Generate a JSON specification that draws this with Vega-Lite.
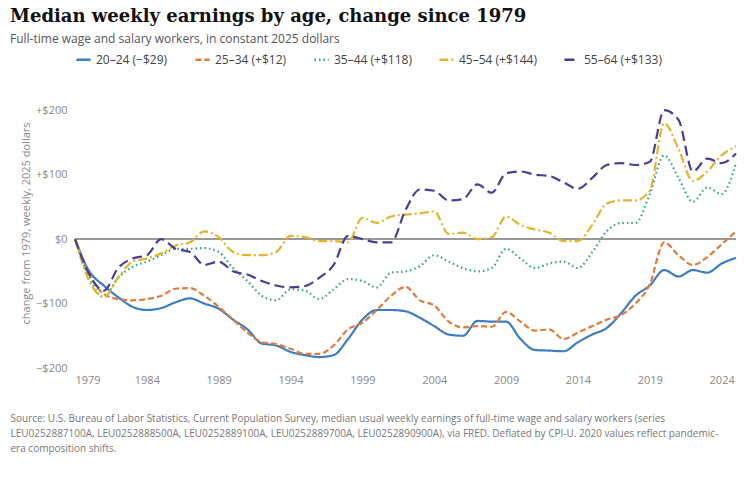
{
  "$schema": "https://vega.github.io/schema/vega-lite/v6.json",
  "width": 661,
  "height": 290,
  "padding": {"left": 10, "top": 8, "right": 14, "bottom": 5},
  "background": "white",
  "config": {
    "view": {"stroke": null},
    "font": "Open Sans",
    "axis": {"labelColor": "#888", "labelFontSize": 11, "titleColor": "#888", "titleFontWeight": "normal"}
  },
  "title": {
    "text": "Median weekly earnings by age, change since 1979",
    "subtitle": "Full-time wage and salary workers, in constant 2025 dollars",
    "anchor": "start",
    "frame": "bounds",
    "font": "DejaVu Serif",
    "fontSize": 18,
    "fontWeight": "bold",
    "color": "#111",
    "subtitleFont": "Open Sans",
    "subtitleFontSize": 12,
    "subtitleColor": "#555",
    "subtitlePadding": 8,
    "offset": 6
  },
  "data": {
    "values": [
      {"year": 1979, "a": 0, "b": 0, "c": 0, "d": 0, "e": 0},
      {"year": 1980, "a": -50, "b": -55, "c": -60, "d": -65, "e": -55},
      {"year": 1981, "a": -72, "b": -85, "c": -90, "d": -90, "e": -80},
      {"year": 1982, "a": -90, "b": -93, "c": -60, "d": -60, "e": -45},
      {"year": 1983, "a": -105, "b": -95, "c": -43, "d": -35, "e": -30},
      {"year": 1984, "a": -110, "b": -93, "c": -35, "d": -30, "e": -25},
      {"year": 1985, "a": -107, "b": -88, "c": -25, "d": -22, "e": 0},
      {"year": 1986, "a": -98, "b": -77, "c": -15, "d": -10, "e": -15},
      {"year": 1987, "a": -92, "b": -76, "c": -15, "d": -5, "e": -20},
      {"year": 1988, "a": -100, "b": -88, "c": -14, "d": 12, "e": -40},
      {"year": 1989, "a": -108, "b": -105, "c": -20, "d": 3, "e": -35},
      {"year": 1990, "a": -125, "b": -125, "c": -45, "d": -20, "e": -50},
      {"year": 1991, "a": -140, "b": -145, "c": -65, "d": -25, "e": -55},
      {"year": 1992, "a": -162, "b": -160, "c": -88, "d": -25, "e": -65},
      {"year": 1993, "a": -165, "b": -163, "c": -95, "d": -20, "e": -72},
      {"year": 1994, "a": -175, "b": -170, "c": -78, "d": 5, "e": -75},
      {"year": 1995, "a": -180, "b": -178, "c": -80, "d": 3, "e": -73},
      {"year": 1996, "a": -183, "b": -178, "c": -93, "d": -3, "e": -60},
      {"year": 1997, "a": -180, "b": -165, "c": -78, "d": -3, "e": -40},
      {"year": 1998, "a": -155, "b": -140, "c": -62, "d": -5, "e": 5},
      {"year": 1999, "a": -125, "b": -130, "c": -65, "d": 33, "e": 0},
      {"year": 2000, "a": -110, "b": -110, "c": -75, "d": 25, "e": -5},
      {"year": 2001, "a": -110, "b": -88, "c": -52, "d": 35, "e": -5},
      {"year": 2002, "a": -112, "b": -74, "c": -50, "d": 38, "e": 45},
      {"year": 2003, "a": -122, "b": -95, "c": -42, "d": 40, "e": 77},
      {"year": 2004, "a": -135, "b": -103, "c": -25, "d": 43, "e": 75},
      {"year": 2005, "a": -148, "b": -128, "c": -35, "d": 8, "e": 60},
      {"year": 2006, "a": -150, "b": -137, "c": -45, "d": 10, "e": 62},
      {"year": 2007, "a": -127, "b": -135, "c": -50, "d": 0, "e": 85},
      {"year": 2008, "a": -128, "b": -136, "c": -45, "d": 3, "e": 72},
      {"year": 2009, "a": -128, "b": -113, "c": -15, "d": 35, "e": 102},
      {"year": 2010, "a": -155, "b": -128, "c": -30, "d": 22, "e": 105},
      {"year": 2011, "a": -172, "b": -142, "c": -45, "d": 15, "e": 100},
      {"year": 2012, "a": -173, "b": -140, "c": -38, "d": 10, "e": 98},
      {"year": 2013, "a": -174, "b": -155, "c": -35, "d": -3, "e": 88},
      {"year": 2014, "a": -160, "b": -145, "c": -45, "d": -3, "e": 78},
      {"year": 2015, "a": -148, "b": -135, "c": -20, "d": 22, "e": 95},
      {"year": 2016, "a": -138, "b": -125, "c": 12, "d": 55, "e": 115},
      {"year": 2017, "a": -115, "b": -118, "c": 25, "d": 60, "e": 118},
      {"year": 2018, "a": -88, "b": -100, "c": 25, "d": 60, "e": 115},
      {"year": 2019, "a": -72, "b": -70, "c": 70, "d": 75, "e": 120},
      {"year": 2020, "a": -48, "b": -5, "c": 130, "d": 180, "e": 200},
      {"year": 2021, "a": -58, "b": -25, "c": 95, "d": 140, "e": 185},
      {"year": 2022, "a": -48, "b": -40, "c": 58, "d": 90, "e": 105},
      {"year": 2023, "a": -52, "b": -28, "c": 80, "d": 105, "e": 125},
      {"year": 2024, "a": -38, "b": -8, "c": 70, "d": 130, "e": 118},
      {"year": 2025, "a": -29, "b": 12, "c": 118, "d": 144, "e": 133}
    ]
  },
  "layer": [
    {
      "mark": {"type": "rule", "color": "#999", "strokeWidth": 2},
      "encoding": {"y": {"datum": 0}}
    },
    {
      "transform": [
        {"fold": ["a", "b", "c", "d", "e"], "as": ["key", "value"]},
        {"lookup": "key", "from": {"data": {"values": [
          {"key": "a", "series": "20–24 (−$29)"},
          {"key": "b", "series": "25–34 (+$12)"},
          {"key": "c", "series": "35–44 (+$118)"},
          {"key": "d", "series": "45–54 (+$144)"},
          {"key": "e", "series": "55–64 (+$133)"}
        ]}, "key": "key", "fields": ["series"]}}
      ],
      "mark": {"type": "line", "strokeWidth": 2.2, "interpolate": "monotone"},
      "encoding": {
        "x": {
          "field": "year", "type": "quantitative",
          "scale": {"domain": [1979, 2025], "nice": false},
          "axis": {
            "values": [1979, 1984, 1989, 1994, 1999, 2004, 2009, 2014, 2019, 2024],
            "format": "d", "grid": false, "ticks": false, "domain": false, "labelPadding": 6,
            "title": [
              "Source: U.S. Bureau of Labor Statistics, Current Population Survey, median usual weekly earnings of full-time wage and salary workers (series",
              "LEU0252887100A, LEU0252888500A, LEU0252889100A, LEU0252889700A, LEU0252890900A), via FRED. Deflated by CPI-U. 2020 values reflect pandemic-",
              "era composition shifts."
            ],
            "titleAnchor": "start", "titleAlign": "left", "titleBaseline": "top",
            "titleX": -65, "titleY": 45, "titleFontSize": 10, "titleLineHeight": 15, "titleColor": "#777"
          }
        },
        "y": {
          "field": "value", "type": "quantitative",
          "scale": {"domain": [-200, 250], "nice": false},
          "axis": {
            "values": [-200, -150, -100, -50, 0, 50, 100, 150, 200, 250],
            "labelExpr": "datum.value > 0 ? '+$' + datum.value : (datum.value < 0 ? '−$' + abs(datum.value) : '$0')",
            "labelOverlap": false, "labelBound": false,
            "ticks": false, "domain": false, "gridColor": "#e2e2e2", "labelPadding": 8,
            "title": "change from 1979, weekly, 2025 dollars", "titleFontSize": 11
          }
        },
        "color": {
          "field": "series", "type": "nominal",
          "scale": {
            "domain": ["20–24 (−$29)", "25–34 (+$12)", "35–44 (+$118)", "45–54 (+$144)", "55–64 (+$133)"],
            "range": ["#3b7dc4", "#e07b3c", "#2da67c", "#e2b42a", "#4a3e94"]
          },
          "legend": {
            "orient": "top", "direction": "horizontal", "title": null, "symbolType": "stroke",
            "symbolStrokeWidth": 2.5, "symbolSize": 200, "labelFontSize": 12, "labelColor": "#444",
            "columnPadding": 22, "offset": 12, "symbolDash": [1, 0]
          }
        },
        "strokeDash": {
          "field": "series", "type": "nominal",
          "scale": {
            "domain": ["20–24 (−$29)", "25–34 (+$12)", "35–44 (+$118)", "45–54 (+$144)", "55–64 (+$133)"],
            "range": [[1, 0], [6, 3], [1.5, 3], [9, 3, 2, 3], [10, 5]]
          },
          "legend": null
        }
      }
    }
  ]
}
